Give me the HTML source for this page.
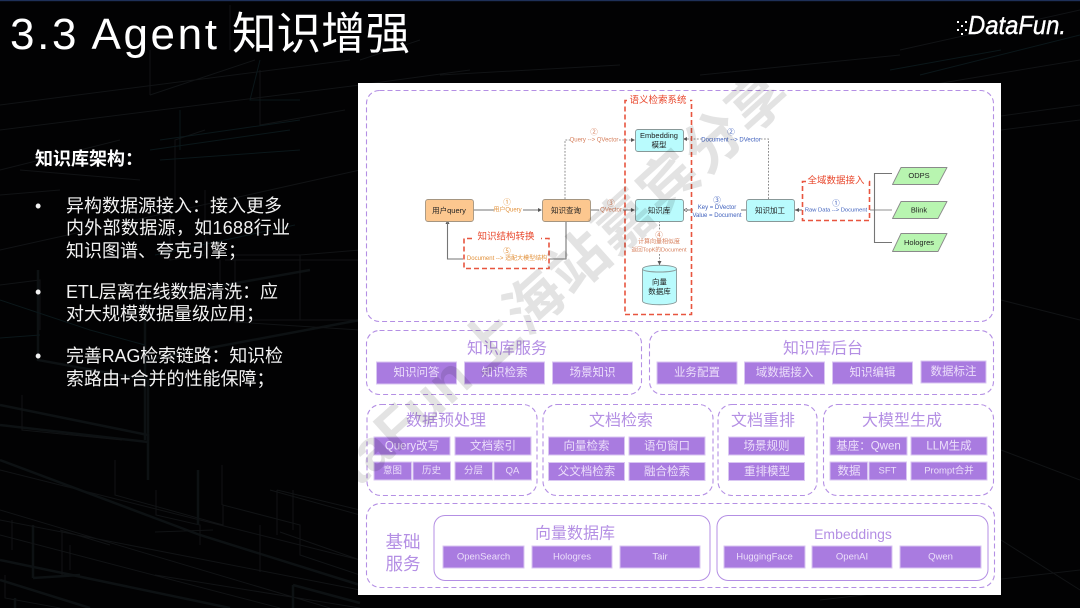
<!DOCTYPE html>
<html><head><meta charset="utf-8">
<style>
html,body{margin:0;padding:0;background:#020203;width:1080px;height:608px;overflow:hidden}
svg{display:block}
text{font-family:"Liberation Sans","Noto Sans CJK SC",sans-serif}
.c{text-anchor:middle;dominant-baseline:central}
.t{fill:#b48fe4;font-size:16px}
.i{fill:#ecdffa;font-size:11.5px}
.l{fill:#ecdffa;font-size:9.5px}
.n{fill:#222;font-size:7.5px}
.o{fill:#e2913a;font-size:6px}
.s{fill:#d67f5c;font-size:6px}
.b{fill:#3f60bd;font-size:6px}
.q{font-size:7.5px}
.r{fill:#e8472c;font-size:9.5px}
.g{fill:none;stroke:#b48fe4;stroke-width:1.1;stroke-dasharray:5 3}
.it{fill:#a97be0;stroke:#d9c6f2;stroke-width:1}
.rd{fill:none;stroke:#e8553f;stroke-width:1.6;stroke-dasharray:5 3}
.cy{fill:#b9fbfd;stroke:#889898;stroke-width:.9}
.or{fill:#fcc78f;stroke:#a59580;stroke-width:.9}
.gr{fill:#b8f5b0;stroke:#8a8a8a;stroke-width:.9;stroke-linejoin:round}
.ln{fill:none;stroke:#757575;stroke-width:1.1}
.dt{fill:none;stroke:#707070;stroke-width:.8;stroke-dasharray:1.8 1.5}
.p{fill:#555}
.bg1{fill:none;stroke:#111315;stroke-width:1}
.bg2{fill:none;stroke:#0d1113;stroke-width:2.5}
.bg3{fill:none;stroke:#0b171a;stroke-width:1}
</style></head>
<body>
<svg width="1080" height="608" viewBox="0 0 1080 608" xmlns="http://www.w3.org/2000/svg">
<defs><clipPath id="cp"><rect x="358" y="83" width="643" height="512"/></clipPath></defs>
<rect width="1080" height="608" fill="#020203"/>
<rect width="1080" height="1.2" fill="#1e3058"/>
<!-- background lines -->
<g>
<path class="bg1" d="M0 105L350 60M0 130L360 85M0 250L360 170M150 95L255 60M230 50V5M150 50V95"/>
<path class="bg2" d="M38 270V360L148 380V480M145 360L360 320M140 300L310 270"/>
<path class="bg1" d="M0 285L40 280V330M170 200V260L205 255V190M205 130L175 140V200M260 70V125L345 110"/>
<path class="bg3" d="M160 140L300 120M150 150L290 130M180 150V110M155 255L295 225M260 60L250 100H300"/>
<path class="bg1" d="M235 255H300V255L360 250M300 255V320M210 320H360M235 260V322L360 330"/>
<path class="bg2" d="M0 405L148 435V440M145 300V440M0 425L148 442"/>
<path class="bg1" d="M22 395V430L122 440M115 460V495L223 525V505L300 525V555L360 575M222 505V465M156 490V515L200 525V545M0 470L360 560"/>
<path class="bg2" d="M0 460L200 535L360 585M198 470V525M0 560L230 608M33 525V578M33 578L80 575"/>
<path class="bg1" d="M0 520L360 590M0 510L330 608M0 535L280 608M12 520V550M62 530V575M70 545V570M60 530L110 545M155 575L360 608M5 575V598L60 608M260 525V572M293 490V530M155 532L213 530M280 532L360 560"/>
<path class="bg2" d="M293 585V608M293 585L360 603M0 580L90 608M15 598V608"/>
<path class="bg1" d="M0 170L120 140M20 170L140 180M0 195L60 190M220 290V260M225 260L360 260M270 490L360 515V490M277 490V535M277 490L360 510"/>
<path class="bg3" d="M0 300L90 330L145 345M160 160L300 150M0 338L40 335"/>
<path class="bg1" d="M900 50L1080 10M900 90L1080 60M900 130L1080 105M1001 130L1080 120M1001 300L1080 320M1001 450L1080 480M1001 540L1080 590M820 600L1080 570"/>
<path class="bg3" d="M920 75L1080 35M890 70L1001 50"/>
<path class="bg1" d="M360 60L420 40M360 85L470 70M700 75L900 55M440 75L620 65"/>
</g>
<!-- title -->
<text x="10" y="49" font-size="44" fill="#fff" textLength="207" lengthAdjust="spacing">3.3 Agent</text>
<text x="232" y="49" font-size="44.500" fill="#fff">知识增强</text>
<!-- logo -->
<text x="968" y="34" font-size="26" font-style="italic" fill="#fff" stroke="#fff" stroke-width=".4" textLength="98" lengthAdjust="spacingAndGlyphs">DataFun.</text>
<g fill="#fff"><rect x="957" y="21" width="2" height="2"/><rect x="961" y="25" width="2" height="2"/><rect x="957" y="29" width="2" height="2"/><rect x="965" y="21" width="2" height="2"/><rect x="965" y="29" width="2" height="2"/><rect x="961" y="33" width="2" height="2"/></g>
<!-- left text -->
<g fill="#f2f2f2" font-size="18">
<text x="35" y="165" font-weight="bold" fill="#fff">知识库架构：</text>
<text x="35" y="212">•</text>
<text x="66" y="212">异构数据源接入：接入更多</text>
<text x="66" y="234" textLength="224" lengthAdjust="spacing">内外部数据源，如1688行业</text>
<text x="66" y="257">知识图谱、夸克引擎；</text>
<text x="35" y="298">•</text>
<text x="66" y="298" textLength="212" lengthAdjust="spacing">ETL层离在线数据清洗：应</text>
<text x="66" y="320">对大规模数据量级应用；</text>
<text x="35" y="362">•</text>
<text x="66" y="362" textLength="217" lengthAdjust="spacing">完善RAG检索链路：知识检</text>
<text x="66" y="385">索路由+合并的性能保障；</text>
</g>
<!-- panel -->
<rect x="358" y="83" width="643" height="512" fill="#fff"/>
<g style="filter:blur(.25px)">
<!-- top group -->
<rect class="g" x="366.500" y="90.500" width="627" height="231" rx="13"/>
<!-- connectors -->
<path class="ln" d="M473 210H494M523 210H540M590 210H599M623 210H633"/>
<path class="p" d="M542 210l-4-2v4zM635 210l-4-2v4zM447.500 220l-2 4h4z"/>
<path class="ln" d="M566 221V259H549M463 259H447.500V222"/>
<path class="dt" d="M565 199V140H571M619 140H635"/>
<path class="p" d="M635 140l-4-2v4z"/>
<path class="dt" d="M768.500 199V139H760M702 139H683"/>
<path class="p" d="M683 139l4-2v4z"/>
<path class="ln" d="M746 210H741M693 210H683"/>
<path class="p" d="M683 210l4-2v4z"/>
<circle cx="686" cy="210" r="1.200" fill="#fff" stroke="#666" stroke-width=".6"/>
<path class="dt" d="M659.500 221V230M659.500 254V265"/>
<path class="p" d="M659.500 265l-2-4h4z"/>
<path class="ln" d="M795 210H802"/>
<path class="p" d="M795 210l4-2v4z"/>
<path d="M870 210H892" stroke="#b5b5b5" stroke-width="1.600" fill="none"/>
<path class="ln" d="M892 173.500H874.500V242.500H892"/>
<!-- red boxes -->
<path class="rd" d="M627 100.500H625V314.500H691.500V100.500H690"/>
<text class="c r" x="658" y="100.500">语义检索系统</text>
<path class="rd" d="M472 238.500H464V268.500H549V238.500H541"/>
<text class="c r" x="506" y="237">知识结构转换</text>
<path class="rd" d="M806 181.500H802.500V220.500H869.500V181.500H866"/>
<text class="c r" x="836" y="181">全域数据接入</text>
<!-- nodes -->
<rect class="or" x="425.500" y="199.500" width="48" height="22" rx="2.500"/>
<text class="c n" x="449" y="210.500">用户query</text>
<rect class="or" x="542.500" y="199.500" width="48" height="22" rx="2.500"/>
<text class="c n" x="566" y="210.500">知识查询</text>
<rect class="cy" x="635.500" y="129.500" width="48" height="22" rx="2.500"/>
<text class="c n" x="659" y="135.500">Embedding</text>
<text class="c n" x="659" y="145">模型</text>
<rect class="cy" x="635.500" y="199.500" width="48" height="22" rx="2.500"/>
<text class="c n" x="659" y="210.500">知识库</text>
<rect class="cy" x="746.500" y="199.500" width="48" height="22" rx="2.500"/>
<text class="c n" x="770" y="210.500">知识加工</text>
<path class="cy" d="M642.500 269C642.500 264 676.500 264 676.500 269V301C676.500 306 642.500 306 642.500 301Z"/>
<path class="cy" d="M642.500 269C642.500 273 676.500 273 676.500 269" fill="none"/>
<text class="c n" x="659.500" y="282">向量</text>
<text class="c n" x="659.500" y="291.500">数据库</text>
<path class="gr" d="M892.500 184.500L901 167.500H947L938 184.500Z"/>
<text class="c n" x="919" y="175.500">ODPS</text>
<path class="gr" d="M892.500 218.500L901 201.500H947L938 218.500Z"/>
<text class="c n" x="919" y="210">Blink</text>
<path class="gr" d="M892.500 251.500L901 233.500H947L938 251.500Z"/>
<text class="c n" x="919" y="242.500">Hologres</text>
<!-- labels -->
<text class="c o q" x="507" y="202">①</text>
<text class="c o" x="507.500" y="210.500">用户Query</text>
<text class="c s q" x="594" y="132">②</text>
<text class="c s" x="594" y="140.500">Query --&gt; QVector</text>
<text class="c s q" x="611" y="203">③</text>
<text class="c s" x="611" y="210.500">QVector</text>
<text class="c o q" x="507" y="251">⑤</text>
<text class="c o" x="507" y="259">Document --&gt; 适配大模型结构</text>
<text class="c s q" x="659" y="235">④</text>
<text class="c s" x="659" y="242.500">计算向量相似度</text>
<text class="c s" x="659" y="250.500" style="font-size:5.600px">返回TopK的Document</text>
<text class="c b q" x="731" y="132">②</text>
<text class="c b" x="731" y="140.500">Document --&gt; DVector</text>
<text class="c b q" x="717" y="200">③</text>
<text class="c b" x="717" y="208">Key = DVector</text>
<text class="c b" x="717" y="216">Value = Document</text>
<text class="c b q" x="836" y="203">①</text>
<text class="c b" x="836" y="210.500" style="font-size:5.800px">Raw Data --&gt; Document</text>
<!-- groups -->
<rect class="g" x="366.500" y="330.500" width="275" height="64" rx="13"/>
<text class="c t" x="507" y="349">知识库服务</text>
<rect class="it" x="376.500" y="362" width="80" height="22"/><text class="c i" x="416.500" y="373">知识问答</text>
<rect class="it" x="464.500" y="362" width="80" height="22"/><text class="c i" x="504.500" y="373">知识检索</text>
<rect class="it" x="552.500" y="362" width="80" height="22"/><text class="c i" x="592.500" y="373">场景知识</text>
<rect class="g" x="649.500" y="330.500" width="344" height="64" rx="13"/>
<text class="c t" x="823" y="349">知识库后台</text>
<rect class="it" x="657" y="362" width="80" height="22"/><text class="c i" x="697" y="373">业务配置</text>
<rect class="it" x="744.500" y="362" width="80" height="22"/><text class="c i" x="784.500" y="373">域数据接入</text>
<rect class="it" x="832.500" y="362" width="80" height="22"/><text class="c i" x="872.500" y="373">知识编辑</text>
<rect class="it" x="921" y="361" width="65" height="22"/><text class="c i" x="953.500" y="372">数据标注</text>

<rect class="g" x="367" y="404.500" width="170" height="91" rx="14"/>
<text class="c t" x="446" y="421">数据预处理</text>
<rect class="it" x="374" y="437" width="76" height="18"/><text class="c i" x="412" y="446.500">Query改写</text>
<rect class="it" x="455" y="437" width="76" height="18"/><text class="c i" x="493" y="446.500">文档索引</text>
<rect class="it" x="374" y="462" width="37.500" height="18"/><text class="c l" x="392.500" y="471">意图</text>
<rect class="it" x="413" y="462" width="37.500" height="18"/><text class="c l" x="431.500" y="471">历史</text>
<rect class="it" x="455" y="462" width="37.500" height="18"/><text class="c l" x="473.500" y="471">分层</text>
<rect class="it" x="494" y="462" width="37.500" height="18"/><text class="c l" x="512.500" y="471">QA</text>

<rect class="g" x="543" y="404.500" width="170" height="91" rx="14"/>
<text class="c t" x="621" y="421">文档检索</text>
<rect class="it" x="548.500" y="437" width="76" height="18"/><text class="c i" x="586.500" y="446.500">向量检索</text>
<rect class="it" x="629" y="437" width="76" height="18"/><text class="c i" x="667" y="446.500">语句窗口</text>
<rect class="it" x="548.500" y="462.500" width="76" height="18"/><text class="c i" x="586.500" y="472">父文档检索</text>
<rect class="it" x="629" y="462.500" width="76" height="18"/><text class="c i" x="667" y="472">融合检索</text>

<rect class="g" x="718" y="404.500" width="99" height="91" rx="14"/>
<text class="c t" x="763" y="421">文档重排</text>
<rect class="it" x="728.500" y="437" width="76" height="18"/><text class="c i" x="766.500" y="446.500">场景规则</text>
<rect class="it" x="728.500" y="462.500" width="76" height="18"/><text class="c i" x="767" y="472">重排模型</text>

<rect class="g" x="823.500" y="404.500" width="170" height="91" rx="14"/>
<text class="c t" x="902" y="421">大模型生成</text>
<rect class="it" x="830" y="437" width="77" height="18"/><text class="c i" x="868.500" y="446.500">基座：Qwen</text>
<rect class="it" x="911" y="437" width="76" height="18"/><text class="c i" x="949" y="446.500">LLM生成</text>
<rect class="it" x="830" y="462" width="37.500" height="18"/><text class="c i" x="849" y="471.500">数据</text>
<rect class="it" x="869" y="462" width="37.500" height="18"/><text class="c l" x="887.500" y="471">SFT</text>
<rect class="it" x="911" y="462" width="76" height="18"/><text class="c l" x="949" y="471">Prompt合并</text>

<rect class="g" x="366.500" y="503.500" width="628" height="84" rx="14"/>
<text class="c" x="403" y="542" font-size="17.500" fill="#b48fe4">基础</text>
<text class="c" x="403" y="564" font-size="17.500" fill="#b48fe4">服务</text>
<rect x="434" y="515.500" width="276" height="65" rx="11" fill="none" stroke="#b48fe4" stroke-width="1"/>
<text class="c t" x="575" y="534">向量数据库</text>
<rect class="it" x="443" y="546" width="81" height="22"/><text class="c l" x="483.500" y="557">OpenSearch</text>
<rect class="it" x="532" y="546" width="80" height="22"/><text class="c l" x="572" y="557">Hologres</text>
<rect class="it" x="620" y="546" width="80" height="22"/><text class="c l" x="660" y="557">Tair</text>
<rect x="717" y="515.500" width="271" height="65" rx="11" fill="none" stroke="#b48fe4" stroke-width="1"/>
<text class="c" x="853" y="534" font-size="14" fill="#b48fe4">Embeddings</text>
<rect class="it" x="724" y="546" width="81" height="22"/><text class="c l" x="764.500" y="557">HuggingFace</text>
<rect class="it" x="812" y="546" width="80" height="22"/><text class="c l" x="852" y="557">OpenAI</text>
<rect class="it" x="900" y="546" width="81" height="22"/><text class="c l" x="940.500" y="557">Qwen</text>
</g>
<!-- watermark overlay -->
<g clip-path="url(#cp)" font-size="58" font-weight="bold" fill="#000" fill-opacity=".11">
<text transform="translate(303 538) rotate(-42)">DataFun</text>
<text transform="translate(482 377) rotate(-42)" letter-spacing="2">上海站嘉宾分享</text>
</g>
</svg>
</body></html>
